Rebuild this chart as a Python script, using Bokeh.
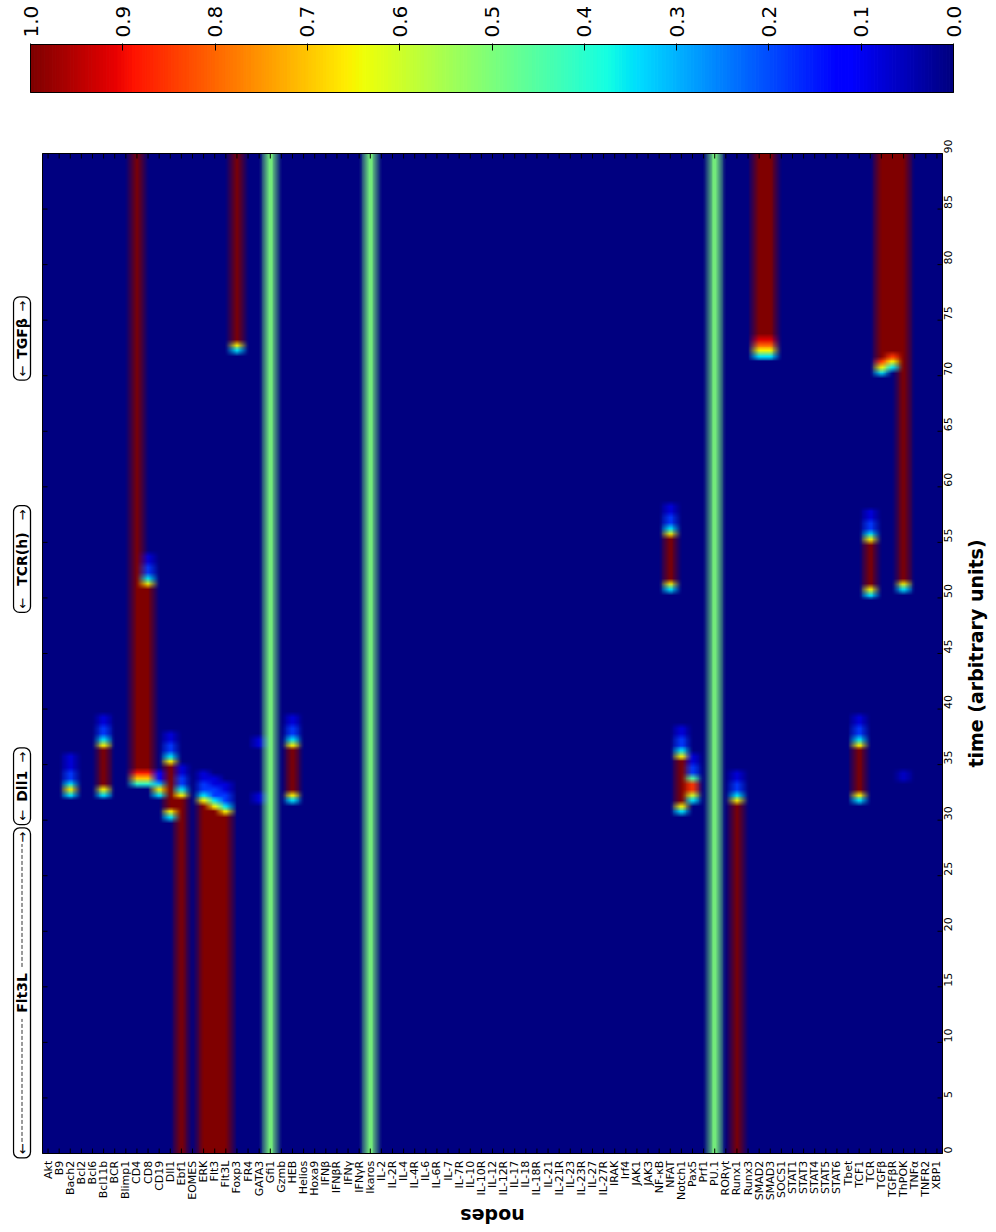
import numpy as np
from math import pi
from bokeh.plotting import figure
from bokeh.layouts import column
from bokeh.models import (Range1d, FixedTicker, LinearColorMapper, Label, Arrow, Quad, AllLabels,
                          PrintfTickFormatter, ColumnDataSource, CustomJSTickFormatter)
from bokeh.embed import file_html
from bokeh.resources import INLINE

# ---------------- data ----------------
nodes = ["Akt", "B9", "Bach2", "Bcl2", "Bcl6", "Bcl11b", "BCR", "Blimp1", "CD4", "CD8",
         "CD19", "Dll1", "Ebf1", "EOMES", "ERK", "Flt3", "Flt3L", "Foxp3", "FR4", "GATA3",
         "Gfi1", "Gzmb", "HEB", "Helios", "Hoxa9", "IFNβ", "IFNβR", "IFNγ", "IFNγR", "Ikaros",
         "IL-2", "IL-2R", "IL-4", "IL-4R", "IL-6", "IL-6R", "IL-7", "IL-7R", "IL-10", "IL-10R",
         "IL-12", "IL-12R", "IL-17", "IL-18", "IL-18R", "IL-21", "IL-21R", "IL-23", "IL-23R", "IL-27",
         "IL-27R", "IRAK", "Irf4", "JAK1", "JAK3", "NF-κB", "NFAT", "Notch1", "Pax5", "Prf1",
         "PU.1", "RORγt", "Runx1", "Runx3", "SMAD2", "SMAD3", "SOCS1", "STAT1", "STAT3", "STAT4",
         "STAT5", "STAT6", "Tbet", "TCF1", "TCR", "TGFβ", "TGFβR", "ThPOK", "TNFα", "TNFR2", "XBP1"]

time_start, time_end = 0, 90
time_step = 0.5
time_ticks = [0, 5, 10, 15, 20, 25, 30, 35, 40, 45, 50, 55, 60, 65, 70, 75, 80, 85, 90]
colorbar_ticks = [0.0, 0.1, 0.2, 0.3, 0.4, 0.5, 0.6, 0.7, 0.8, 0.9, 1.0]

# activity segments: node, time from, time to, activity level
act_node, act_t0, act_t1, act_val = [], [], [], []


def seg(node, rows):
    for t0, t1, v in rows:
        act_node.append(node); act_t0.append(t0); act_t1.append(t1); act_val.append(v)


seg("Gfi1",   [(0, 90, 0.5)])
seg("Ikaros", [(0, 90, 0.5)])
seg("PU.1",   [(0, 90, 0.5)])
seg("Ebf1",   [(0, 32, 1.0), (32, 32.5, 0.65), (32.5, 33, 0.35), (33, 34, 0.18), (34, 35, 0.08)])
seg("ERK",    [(0, 31.5, 1.0), (31.5, 32, 0.65), (32, 32.5, 0.35), (32.5, 33.5, 0.18), (33.5, 34.5, 0.08)])
seg("Flt3",   [(0, 31, 1.0), (31, 31.5, 0.65), (31.5, 32, 0.35), (32, 33, 0.18), (33, 34, 0.08)])
seg("Flt3L",  [(0, 30.5, 1.0), (30.5, 31, 0.65), (31, 31.5, 0.35), (31.5, 32.5, 0.18), (32.5, 33.5, 0.08)])
seg("Runx1",  [(0, 31.5, 1.0), (31.5, 32, 0.65), (32, 32.5, 0.35), (32.5, 33.5, 0.18), (33.5, 34.5, 0.08)])
seg("Dll1",   [(30, 30.5, 0.35), (30.5, 31, 0.65), (31, 35, 1.0), (35, 35.5, 0.65), (35.5, 36, 0.35),
               (36, 37, 0.18), (37, 38, 0.08)])
seg("Notch1", [(30.5, 31, 0.35), (31, 31.5, 0.65), (31.5, 35.5, 1.0), (35.5, 36, 0.65), (36, 36.5, 0.35),
               (36.5, 37.5, 0.18), (37.5, 38.5, 0.08)])
seg("Pax5",   [(31.5, 32, 0.35), (32, 32.5, 0.6), (32.5, 33.5, 0.85), (33.5, 34, 0.45), (34, 35, 0.18),
               (35, 36, 0.08)])
seg("Bach2",  [(32, 32.5, 0.35), (32.5, 33, 0.65), (33, 33.5, 0.35), (33.5, 34.5, 0.18), (34.5, 36, 0.08)])
seg("CD19",   [(32, 32.5, 0.35), (32.5, 33, 0.65), (33, 33.5, 0.3), (33.5, 34.5, 0.12)])
seg("Bcl11b", [(32, 32.5, 0.35), (32.5, 33, 0.65), (33, 36.5, 1.0), (36.5, 37, 0.65), (37, 37.5, 0.35),
               (37.5, 38.5, 0.18), (38.5, 39.5, 0.08)])
seg("HEB",    [(31.5, 32, 0.35), (32, 32.5, 0.65), (32.5, 36.5, 1.0), (36.5, 37, 0.65), (37, 37.5, 0.35),
               (37.5, 38.5, 0.18), (38.5, 39.5, 0.08)])
seg("TCF1",   [(31.5, 32, 0.35), (32, 32.5, 0.65), (32.5, 36.5, 1.0), (36.5, 37, 0.65), (37, 37.5, 0.35),
               (37.5, 38.5, 0.18), (38.5, 39.5, 0.08)])
seg("GATA3",  [(31.5, 32.5, 0.08), (36.5, 37.5, 0.08)])
seg("CD4",    [(33, 33.5, 0.4), (33.5, 34, 0.7), (34, 34.5, 0.88), (34.5, 90, 1.0)])
seg("CD8",    [(33, 33.5, 0.4), (33.5, 34, 0.7), (34, 34.5, 0.88), (34.5, 51, 1.0), (51, 51.5, 0.65),
               (51.5, 52, 0.35), (52, 53, 0.18), (53, 54, 0.08)])
seg("NFAT",   [(50.5, 51, 0.35), (51, 51.5, 0.65), (51.5, 55.5, 1.0), (55.5, 56, 0.65), (56, 56.5, 0.35),
               (56.5, 57.5, 0.18), (57.5, 58.5, 0.08)])
seg("TCR",    [(50, 50.5, 0.35), (50.5, 51, 0.65), (51, 55, 1.0), (55, 55.5, 0.65), (55.5, 56, 0.35),
               (56, 57, 0.18), (57, 58, 0.08)])
seg("ThPOK",  [(33.5, 34.5, 0.06), (50.5, 51, 0.35), (51, 51.5, 0.65), (51.5, 90, 1.0)])
seg("TGFβ",   [(70, 70.5, 0.35), (70.5, 71, 0.65), (71, 71.5, 0.85), (71.5, 90, 1.0)])
seg("TGFβR",  [(70.5, 71, 0.35), (71, 71.5, 0.65), (71.5, 72, 0.85), (72, 90, 1.0)])
seg("SMAD2",  [(71.5, 72, 0.35), (72, 72.5, 0.65), (72.5, 73, 0.8), (73, 73.5, 0.92), (73.5, 90, 1.0)])
seg("SMAD3",  [(71.5, 72, 0.35), (72, 72.5, 0.65), (72.5, 73, 0.8), (73, 73.5, 0.92), (73.5, 90, 1.0)])
seg("Foxp3",  [(72, 72.5, 0.35), (72.5, 73, 0.65), (73, 90, 1.0)])

# input phases shown along the time axis
phase_names = ["Flt3L", "Dll1", "TCR(h)", "TGFβ"]
phase_start = [-0.4, 29.6, 48.7, 69.6]
phase_end = [29.3, 36.5, 58.3, 77.1]

# ---------------- matrix (time x node) ----------------
n = len(nodes)
n_t = int(round((time_end - time_start) / time_step))
centers = time_start + (np.arange(n_t) + 0.5) * time_step
M = np.zeros((n_t, n))
for name, t0, t1, v in zip(act_node, act_t0, act_t1, act_val):
    j = nodes.index(name)
    M[(centers >= t0) & (centers < t1), j] = v


def jet_palette(k=256):
    xs = np.linspace(0, 1, k)
    r = np.interp(xs, [0, 0.35, 0.66, 0.89, 1], [0, 0, 1, 1, 0.5])
    g = np.interp(xs, [0, 0.125, 0.375, 0.64, 0.91, 1], [0, 0, 1, 1, 0, 0])
    b = np.interp(xs, [0, 0.11, 0.34, 0.65, 1], [0.5, 1, 1, 0, 0])
    return ["#%02x%02x%02x" % (int(round(R * 255)), int(round(G * 255)), int(round(B * 255)))
            for R, G, B in zip(r, g, b)]


jet = jet_palette()
mapper = LinearColorMapper(palette=jet, low=0, high=1)
FONT = "DejaVu Sans"


# colour the cells with the colour map, then imshow-like bilinear display smoothing
def colorize(values):
    rgb = np.array([[int(c[1:3], 16), int(c[3:5], 16), int(c[5:7], 16)] for c in jet], float)
    idx = np.clip((values * 256).astype(int), 0, 255)
    return rgb[idx]


def display_smooth(rgb, fy, fx):
    def along(a, f, axis):
        m = a.shape[axis]
        pos = np.clip((np.arange(m * f) + 0.5) / f - 0.5, 0, m - 1)
        i0 = np.floor(pos).astype(int)
        i1 = np.minimum(i0 + 1, m - 1)
        shape = [1] * a.ndim
        shape[axis] = -1
        w = (pos - i0).reshape(shape)
        return np.take(a, i0, axis=axis) * (1 - w) + np.take(a, i1, axis=axis) * w
    return along(along(rgb, fy, 0), fx, 1)


sm = display_smooth(colorize(M), 3, 6)
H, W = sm.shape[:2]
img = np.empty((H, W), dtype=np.uint32)
view = img.view(dtype=np.uint8).reshape((H, W, 4))
for c in range(3):
    view[:, :, c] = np.round(sm[:, :, c])
view[:, :, 3] = 255

# ---------------- geometry (pixels) ----------------
px_node = 900 / n                           # image is 900 px wide
px_time = 1000 / (time_end - time_start)    # image is 1000 px tall
pad_left, pad_right = 30, 50                # frame room left/right of the image
pad_top, pad_bottom = 16, 75                # frame room above/below the image
frame_w = 900 + pad_left + pad_right        # 980
frame_h = 1000 + pad_top + pad_bottom       # 1091

# ---------------- colorbar figure ----------------
bar_px = 923
cb = figure(x_range=Range1d(1 + 18 / bar_px, -39 / bar_px), y_range=Range1d(-1 / 48, 1 + 1 / 48),
            frame_width=frame_w, frame_height=50,
            min_border_left=12, min_border_right=4, min_border_top=43, min_border_bottom=27,
            output_backend="svg", toolbar_location=None, x_axis_location="above",
            y_axis_location=None)
lv = np.linspace(0, 1, 257)
cb_src = ColumnDataSource(dict(left=lv[:-1], right=lv[1:], v=(lv[:-1] + lv[1:]) / 2))
cb.quad(left="left", right="right", bottom=0, top=1, source=cb_src,
        fill_color={"field": "v", "transform": mapper},
        line_color={"field": "v", "transform": mapper}, line_width=1)
cb.quad(left=0, right=1, bottom=0, top=1, fill_color=None, line_color="black", line_width=1)
cb.grid.visible = False
cb.outline_line_color = None
ax = cb.xaxis[0]
ax.ticker = FixedTicker(ticks=colorbar_ticks)
ax.formatter = PrintfTickFormatter(format="%.1f")
ax.major_label_orientation = pi / 2
ax.major_label_text_font = FONT
ax.major_label_text_font_size = "20px"
ax.major_label_text_color = "black"
ax.major_label_standoff = 6
ax.major_tick_in = 7
ax.major_tick_out = 0
ax.major_tick_line_color = "black"
ax.minor_tick_line_color = None
ax.axis_line_color = None

# ---------------- main heatmap ----------------
p = figure(x_range=Range1d(-pad_left / px_node, n + pad_right / px_node),
           y_range=Range1d(time_start - pad_bottom / px_time, time_end + pad_top / px_time),
           frame_width=frame_w, frame_height=frame_h,
           min_border_left=12, min_border_right=4, min_border_top=17, min_border_bottom=4,
           output_backend="svg", toolbar_location=None, y_axis_location="right")
p.image_rgba(image=[img], x=0, y=time_start, dw=n, dh=time_end - time_start)
p.quad(left=0, right=n, bottom=time_start, top=time_end, fill_color=None,
       line_color="black", line_width=1)
p.grid.visible = False
p.outline_line_color = None

# tick marks pointing into the image on all four sides
tick_len = 5 / px_node
node_pos = [i + 0.5 for i in range(n)]
p.segment(x0=node_pos, y0=[time_start] * n, x1=node_pos, y1=[time_start + tick_len] * n,
          line_color="black", line_width=1)
p.segment(x0=node_pos, y0=[time_end] * n, x1=node_pos, y1=[time_end - tick_len] * n,
          line_color="black", line_width=1)
nt = len(time_ticks)
p.segment(x0=[0] * nt, y0=time_ticks, x1=[tick_len] * nt, y1=time_ticks,
          line_color="black", line_width=1)
p.segment(x0=[n] * nt, y0=time_ticks, x1=[n - tick_len] * nt, y1=time_ticks,
          line_color="black", line_width=1)

xa = p.xaxis[0]
xa.fixed_location = time_start - 0.02
xa.ticker = FixedTicker(ticks=node_pos)
xa.formatter = CustomJSTickFormatter(
    args=dict(names=nodes),
    code="const i = Math.floor(tick); return (i >= 0 && i < names.length) ? names[i] : '';")
xa.major_label_orientation = pi / 2
xa.major_label_text_font = FONT
xa.major_label_text_font_size = "11px"
xa.major_label_text_color = "black"
xa.major_label_standoff = 7
xa.major_tick_in = 0
xa.major_tick_out = 0
xa.minor_tick_line_color = None
xa.axis_line_color = None
xa.major_label_policy = AllLabels()

ya = p.yaxis[0]
ya.fixed_location = n + 0.01
ya.ticker = FixedTicker(ticks=time_ticks)
ya.major_label_orientation = pi / 2
ya.major_label_text_font = FONT
ya.major_label_text_font_size = "11px"
ya.major_label_text_color = "black"
ya.major_label_standoff = 5
ya.major_tick_in = 0
ya.major_tick_out = 0
ya.minor_tick_line_color = None
ya.axis_line_color = None
ya.major_label_policy = AllLabels()

# axis titles
p.add_layout(Label(x=n / 2, y=time_start - 62 / px_time, text="nodes", angle=pi,
                   text_align="center", text_baseline="middle", text_font=FONT,
                   text_font_size="19px", text_font_style="bold", text_color="black"))
p.add_layout(Label(x=n + 33 / px_node, y=(time_start + time_end) / 2,
                   text="time (arbitrary units)", angle=pi / 2,
                   text_align="center", text_baseline="middle", text_font=FONT,
                   text_font_size="19px", text_font_style="bold", text_color="black"))

# phase annotations on the left
bx_left = -29 / px_node
bx_right = -12 / px_node
bx_mid = (bx_left + bx_right) / 2
box_kw = dict(fill_color="white", line_color="black", line_width=1.3)
if "border_radius" in Quad.properties():
    box_kw["border_radius"] = 6
p.quad(left=[bx_left] * len(phase_names), right=[bx_right] * len(phase_names),
       bottom=phase_start, top=phase_end, **box_kw)
arrow_gap = 4 / px_time
for name, t0, t1 in zip(phase_names, phase_start, phase_end):
    mid = (t0 + t1) / 2
    p.add_layout(Label(x=bx_mid, y=mid, text=name, angle=pi / 2, text_align="center",
                       text_baseline="middle", text_font=FONT, text_font_size="14px",
                       text_font_style="bold", text_color="black"))
    p.add_layout(Label(x=bx_mid + 0.5 / px_node, y=t0 + arrow_gap, text="←", angle=pi / 2,
                       text_align="left", text_baseline="middle", text_font=FONT,
                       text_font_size="13px", text_color="black"))
    p.add_layout(Label(x=bx_mid + 0.5 / px_node, y=t1 - arrow_gap, text="→", angle=pi / 2,
                       text_align="right", text_baseline="middle", text_font=FONT,
                       text_font_size="13px", text_color="black"))
    if t1 - t0 > 15:
        half = 26 / px_time
        p.add_layout(Arrow(end=None, x_start=bx_mid, y_start=t0 + 16 / px_time, x_end=bx_mid,
                           y_end=mid - half, line_dash="4 2", line_width=0.8, line_color="black"))
        p.add_layout(Arrow(end=None, x_start=bx_mid, y_start=mid + half, x_end=bx_mid,
                           y_end=t1 - 16 / px_time, line_dash="4 2", line_width=0.8,
                           line_color="black"))

layout = column(cb, p, spacing=0)
open("out.html", "w").write(file_html(layout, INLINE))
